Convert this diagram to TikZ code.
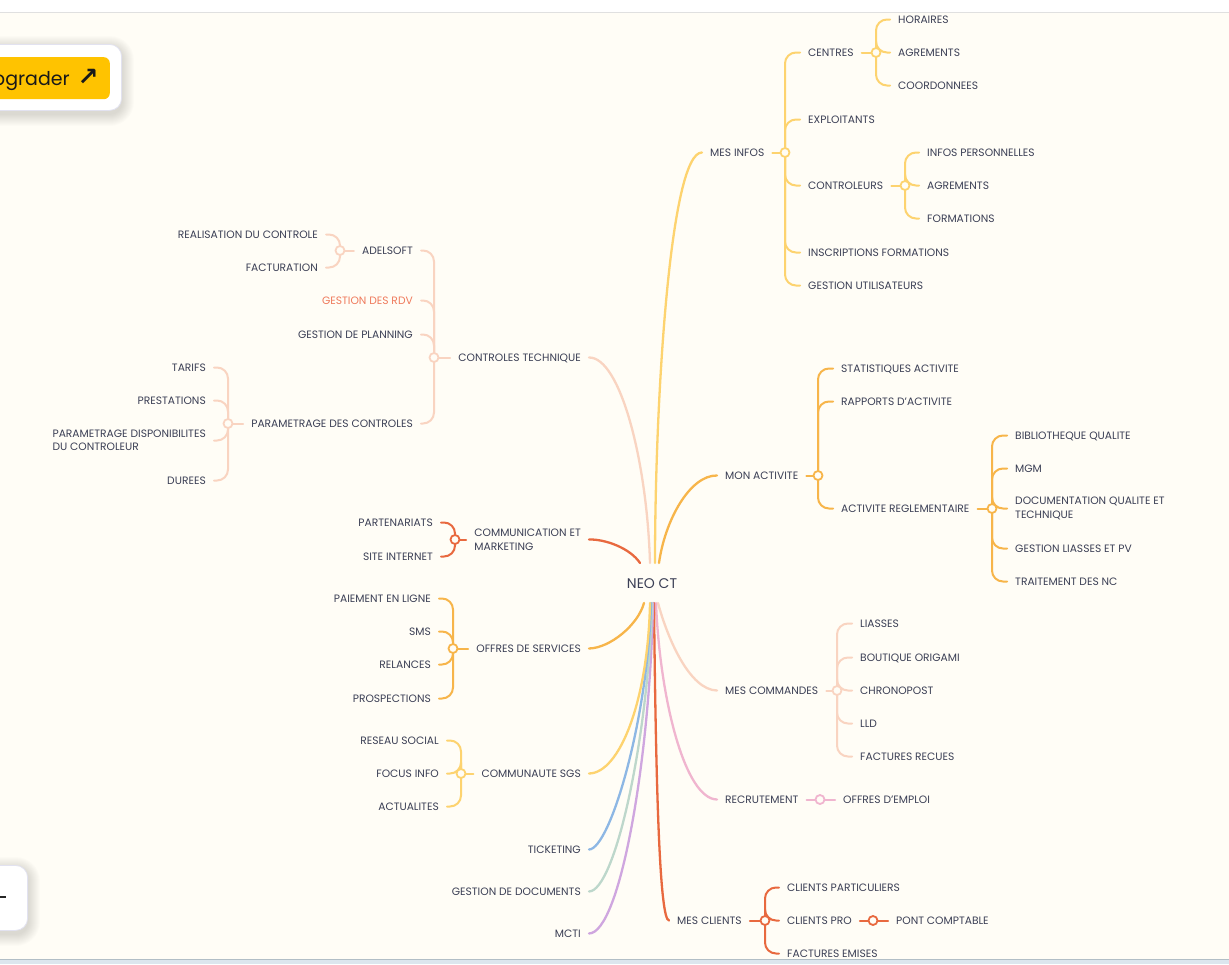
\documentclass[tikz,border=0pt]{standalone}
\usepackage{fontspec}
\setmainfont{Poppins}
\newfontfamily\symfont{DejaVu Sans}
\definecolor{bg}{HTML}{FFFDF6}
\definecolor{txt}{HTML}{3B3F55}
\definecolor{cyel}{HTML}{FDD36F}
\definecolor{corg}{HTML}{F7B54A}
\definecolor{cpch}{HTML}{F9D4C1}
\definecolor{cred}{HTML}{E8693F}
\definecolor{cpnk}{HTML}{F0B5CF}
\definecolor{clav}{HTML}{CFA6DF}
\definecolor{cgrn}{HTML}{BDD7CB}
\definecolor{cblu}{HTML}{8DB7E4}
\definecolor{rdvc}{HTML}{EF7A5C}
\definecolor{boxline}{HTML}{E2E2F0}
\definecolor{btn}{HTML}{FFC300}
\pgfdeclarelayer{back}
\pgfdeclarelayer{lines}
\pgfsetlayers{back,lines,main}
\begin{document}
\begin{tikzpicture}[x=1pt,y=-1pt,
 lbl/.style={font=\fontsize{10.7}{13.5}\selectfont, text=txt, inner xsep=8pt, inner ysep=0pt},
 one/.style={text height=7.5pt, text depth=0pt},
 R/.style={lbl, one, anchor=west},
 L/.style={lbl, one, anchor=east},
 R2/.style={lbl, anchor=west, align=left},
 L2/.style={lbl, anchor=east, align=left},
 jn/.style={circle, draw=#1, line width=1.8pt, fill=bg, minimum size=9pt, inner sep=0pt},
 mainline/.style={draw=#1, line width=2.3pt, line cap=round},
 sub/.style={draw=#1, line width=2pt, line cap=round, rounded corners=11pt},
 panel/.style={fill=white, draw=boxline, line width=0.8pt, rounded corners=12pt},
 shade/.style={fill=black, opacity=0.012},
]
\useasboundingbox (0,0) rectangle (1229,964);
\begin{pgfonlayer}{back}
\fill[bg] (0,0) rectangle (1229,964);
\fill[white] (0,0) rectangle (1229,12);
\draw[color=black!12, line width=1pt] (0,12.5) -- (1229,12.5);
\fill[color={rgb,255:red,220;green,230;blue,238}] (0,959) rectangle (1229,964);
\draw[color={rgb,255:red,178;green,190;blue,198}, line width=1.5pt] (0,959.5) -- (1229,959.5);
% soft shadows of the side panels
\foreach \i in {1,...,12} {
  \fill[shade, rounded corners=12pt+\i pt] (-30-\i,44+4-\i) rectangle (122+\i,110+4+\i);
  \fill[shade, rounded corners=12pt+\i pt] (-30-\i,865+4-\i) rectangle (28+\i,930+4+\i);
}
\end{pgfonlayer}

% side panels
\node[panel, minimum width=160pt, minimum height=66pt, anchor=north east, inner sep=0] (upbox) at (122,44) {};
\node[fill=btn, rounded corners=6pt, minimum width=150pt, minimum height=42pt, anchor=north east, inner sep=0] (upbtn) at (110,57) {};
\node[anchor=base east, font=\fontsize{19}{22}\selectfont, text=black!90, inner sep=0] (upg) at (70,85) {Upgrader};
\node[anchor=center, font=\symfont\bfseries\fontsize{25}{28}\selectfont, text=black!90, inner sep=0] (uparr) at (88,77) {↗};
\node[panel, minimum width=68pt, minimum height=65pt, anchor=north east, inner sep=0] (zoombox) at (28,865) {};
\draw[color=black!85, line width=1.6pt] (0,897) -- (6,897);

% centre
\node[font=\fontsize{14}{16}\selectfont, text=txt, text height=10pt, text depth=0pt, inner sep=0pt] (neo) at (652,583) {NEO CT};
\coordinate (sct) at (650,563);
\coordinate (smi) at (655,563);
\coordinate (sma) at (659,563);
\coordinate (scm) at (640,563);
\coordinate (sof) at (644,603);
\coordinate (scu) at (650,603);
\coordinate (stk) at (651,603);
\coordinate (sgd) at (652,603);
\coordinate (smc) at (653,603);
\coordinate (scl) at (654,603);
\coordinate (src) at (656,603);
\coordinate (sco) at (658,603);

% ---------- right side ----------
\node[R] (mesinfos) at (702,152.5) {MES INFOS};
\node[jn=cyel] (jmi) at (785,152.5) {};
\node[R] (centres) at (800,52.5) {CENTRES};
\node[jn=cyel] (jce) at (876,52.5) {};
\node[R] (horaires) at (890,19.5) {HORAIRES};
\node[R] (agr1) at (890,52.5) {AGREMENTS};
\node[R] (coord) at (890,85.5) {COORDONNEES};
\node[R] (exploit) at (800,119.5) {EXPLOITANTS};
\node[R] (controleurs) at (800,185.5) {CONTROLEURS};
\node[jn=cyel] (jco) at (905,185.5) {};
\node[R] (infos) at (919,152.5) {INFOS PERSONNELLES};
\node[R] (agr2) at (919,185.5) {AGREMENTS};
\node[R] (form) at (919,218.5) {FORMATIONS};
\node[R] (inscr) at (800,252.5) {INSCRIPTIONS FORMATIONS};
\node[R] (gestu) at (800,285.5) {GESTION UTILISATEURS};

\node[R] (monact) at (717,475.5) {MON ACTIVITE};
\node[jn=corg] (jma) at (818,475.5) {};
\node[R] (stat) at (833,368.5) {STATISTIQUES ACTIVITE};
\node[R] (rapp) at (833,401.5) {RAPPORTS D'ACTIVITE};
\node[R] (actreg) at (833,508.5) {ACTIVITE REGLEMENTAIRE};
\node[jn=corg] (jar) at (992,508.5) {};
\node[R] (biblio) at (1007,435.5) {BIBLIOTHEQUE QUALITE};
\node[R] (mgm) at (1007,468.5) {MGM};
\node[R2] (docu) at (1007,508.5) {DOCUMENTATION QUALITE ET\\TECHNIQUE};
\node[R] (gestl) at (1007,548.5) {GESTION LIASSES ET PV};
\node[R] (trait) at (1007,581.5) {TRAITEMENT DES NC};

\node[R] (mescom) at (717,690.5) {MES COMMANDES};
\node[jn=cpch] (jmc) at (837,690.5) {};
\node[R] (liasses) at (852,623.5) {LIASSES};
\node[R] (boutique) at (852,657.5) {BOUTIQUE ORIGAMI};
\node[R] (chrono) at (852,690.5) {CHRONOPOST};
\node[R] (lld) at (852,723.5) {LLD};
\node[R] (factr) at (852,756.5) {FACTURES RECUES};

\node[R] (recrut) at (717,799.5) {RECRUTEMENT};
\node[jn=cpnk] (jrc) at (820,799.5) {};
\node[R] (offemp) at (835,799.5) {OFFRES D'EMPLOI};

\node[R] (mescl) at (669,920.5) {MES CLIENTS};
\node[jn=cred] (jcl) at (765,920.5) {};
\node[R] (clpart) at (779,887.5) {CLIENTS PARTICULIERS};
\node[R] (clpro) at (779,920.5) {CLIENTS PRO};
\node[jn=cred] (jpro) at (873,920.5) {};
\node[R] (pont) at (888,920.5) {PONT COMPTABLE};
\node[R] (facte) at (779,953.5) {FACTURES EMISES};

% ---------- left side ----------
\node[L] (ct) at (589,357.5) {CONTROLES TECHNIQUE};
\node[jn=cpch] (jct) at (434,357.5) {};
\node[L] (adel) at (421,250.5) {ADELSOFT};
\node[jn=cpch] (jad) at (340,250.5) {};
\node[L] (real) at (326,234.5) {REALISATION DU CONTROLE};
\node[L] (factu) at (326,267.5) {FACTURATION};
\node[L, text=rdvc] (rdv) at (421,300.5) {GESTION DES RDV};
\node[L] (plan) at (421,334.5) {GESTION DE PLANNING};
\node[L] (param) at (421,423.5) {PARAMETRAGE DES CONTROLES};
\node[jn=cpch] (jpa) at (228,423.5) {};
\node[L] (tarifs) at (214,367.5) {TARIFS};
\node[L] (prest) at (214,400.5) {PRESTATIONS};
\node[L2] (dispo) at (214,440.5) {PARAMETRAGE DISPONIBILITES\\DU CONTROLEUR};
\node[L] (durees) at (214,480.5) {DUREES};

\node[L2] (comm) at (589,539.5) {COMMUNICATION ET\\MARKETING};
\node[jn=cred] (jcm) at (455,539.5) {};
\node[L] (part) at (441,522.5) {PARTENARIATS};
\node[L] (site) at (441,556.5) {SITE INTERNET};

\node[L] (offres) at (589,648.5) {OFFRES DE SERVICES};
\node[jn=corg] (jof) at (453,648.5) {};
\node[L] (paie) at (439,598.5) {PAIEMENT EN LIGNE};
\node[L] (sms) at (439,631.5) {SMS};
\node[L] (rel) at (439,664.5) {RELANCES};
\node[L] (prosp) at (439,698.5) {PROSPECTIONS};

\node[L] (commu) at (589,773.5) {COMMUNAUTE SGS};
\node[jn=cyel] (jcu) at (461,773.5) {};
\node[L] (reseau) at (447,740.5) {RESEAU SOCIAL};
\node[L] (focus) at (447,773.5) {FOCUS INFO};
\node[L] (actu) at (447,806.5) {ACTUALITES};

\node[L] (ticket) at (589,849.5) {TICKETING};
\node[L] (gdoc) at (589,891.5) {GESTION DE DOCUMENTS};
\node[L] (mcti) at (589,933.5) {MCTI};

% ---------- connectors ----------
\begin{pgfonlayer}{lines}
% main branches
\draw[mainline=cyel] (smi) .. controls (655,400) and (670,152) .. (mesinfos.west);
\draw[mainline=corg] (sma) .. controls (665,520) and (690,475) .. (monact.west);
\draw[mainline=cpch] (sco) .. controls (668,640) and (690,690) .. (mescom.west);
\draw[mainline=cpnk] (src) .. controls (660,700) and (685,799) .. (recrut.west);
\draw[mainline=cred] (scl) .. controls (656,800) and (660,920) .. (mescl.west);
\draw[mainline=clav] (smc) .. controls (650,760) and (620,933) .. (mcti.east);
\draw[mainline=cgrn] (sgd) .. controls (648,740) and (615,891) .. (gdoc.east);
\draw[mainline=cblu] (stk) .. controls (648,720) and (610,849) .. (ticket.east);
\draw[mainline=cyel] (scu) .. controls (648,700) and (620,773) .. (commu.east);
\draw[mainline=corg] (sof) .. controls (638,625) and (610,648) .. (offres.east);
\draw[mainline=cpch] (sct) .. controls (647,460) and (620,357) .. (ct.east);
\draw[mainline=cred] (scm) .. controls (630,548) and (605,539) .. (comm.east);

% MES INFOS
\draw[sub=cyel] (mesinfos.east) -- (jmi.center);
\foreach \c in {centres,exploit,controleurs,inscr,gestu} \draw[sub=cyel] (jmi.center) |- (\c.west);
\draw[sub=cyel] (centres.east) -- (jce.center);
\foreach \c in {horaires,agr1,coord} \draw[sub=cyel] (jce.center) |- (\c.west);
\draw[sub=cyel] (controleurs.east) -- (jco.center);
\foreach \c in {infos,agr2,form} \draw[sub=cyel] (jco.center) |- (\c.west);
% MON ACTIVITE
\draw[sub=corg] (monact.east) -- (jma.center);
\foreach \c in {stat,rapp,actreg} \draw[sub=corg] (jma.center) |- (\c.west);
\draw[sub=corg] (actreg.east) -- (jar.center);
\foreach \c in {biblio,mgm,docu,gestl,trait} \draw[sub=corg] (jar.center) |- (\c.west);
% MES COMMANDES
\draw[sub=cpch] (mescom.east) -- (jmc.center);
\foreach \c in {liasses,boutique,chrono,lld,factr} \draw[sub=cpch] (jmc.center) |- (\c.west);
% RECRUTEMENT
\draw[sub=cpnk] (recrut.east) -- (jrc.center) -- (offemp.west);
% MES CLIENTS
\draw[sub=cred] (mescl.east) -- (jcl.center);
\foreach \c in {clpart,clpro,facte} \draw[sub=cred] (jcl.center) |- (\c.west);
\draw[sub=cred] (clpro.east) -- (jpro.center) -- (pont.west);
% CONTROLES TECHNIQUE
\draw[sub=cpch] (ct.west) -- (jct.center);
\foreach \c in {adel,rdv,plan,param} \draw[sub=cpch] (jct.center) |- (\c.east);
\draw[sub=cpch] (adel.west) -- (jad.center);
\foreach \c in {real,factu} \draw[sub=cpch] (jad.center) |- (\c.east);
\draw[sub=cpch] (param.west) -- (jpa.center);
\foreach \c in {tarifs,prest,dispo,durees} \draw[sub=cpch] (jpa.center) |- (\c.east);
% COMMUNICATION
\draw[sub=cred] (comm.west) -- (jcm.center);
\foreach \c in {part,site} \draw[sub=cred] (jcm.center) |- (\c.east);
% OFFRES
\draw[sub=corg] (offres.west) -- (jof.center);
\foreach \c in {paie,sms,rel,prosp} \draw[sub=corg] (jof.center) |- (\c.east);
% COMMUNAUTE
\draw[sub=cyel] (commu.west) -- (jcu.center);
\foreach \c in {reseau,focus,actu} \draw[sub=cyel] (jcu.center) |- (\c.east);
\end{pgfonlayer}
\end{tikzpicture}
\end{document}
